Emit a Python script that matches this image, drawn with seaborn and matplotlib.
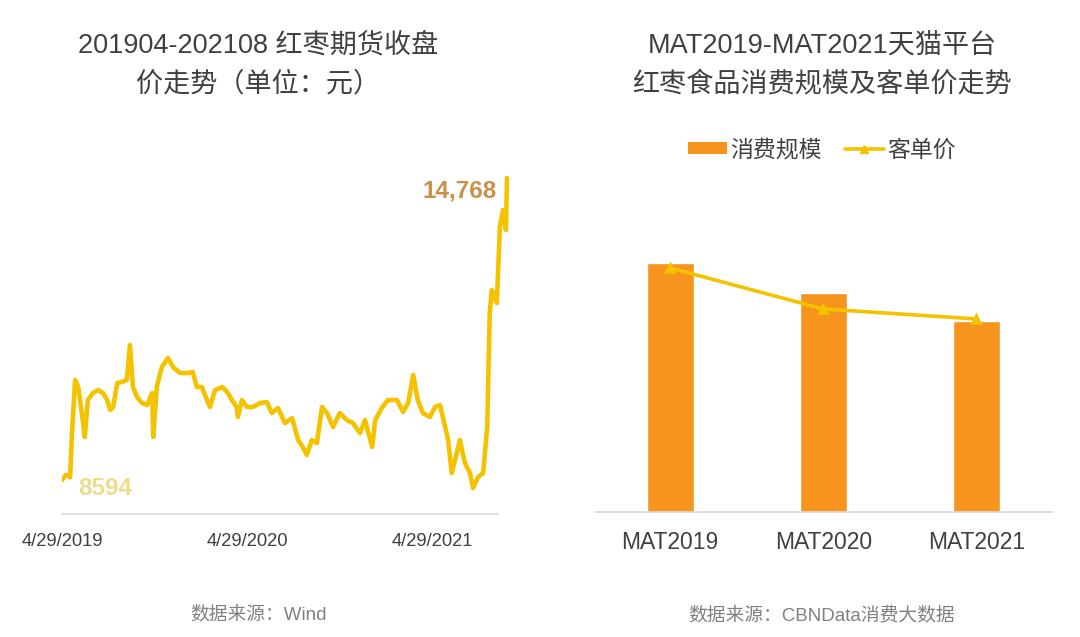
"""
红枣期货收盘价走势 + 天猫平台红枣食品消费规模及客单价走势 (two panels).
"""
import matplotlib
matplotlib.use("Agg")
import matplotlib.pyplot as plt
from matplotlib.patches import Patch
from matplotlib.lines import Line2D
import matplotlib.dates as mdates
import pandas as pd
import seaborn as sns

# ---- left panel: futures close price ----
futures_dates = [
    "2019-04-29", "2019-05-07", "2019-05-15", "2019-05-19", "2019-05-25", "2019-05-31",
    "2019-06-09", "2019-06-13", "2019-06-19", "2019-06-29", "2019-07-09", "2019-07-19",
    "2019-07-27", "2019-08-02", "2019-08-08", "2019-08-16", "2019-08-25", "2019-09-04",
    "2019-09-10", "2019-09-16", "2019-09-24", "2019-10-04", "2019-10-14", "2019-10-24",
    "2019-10-26", "2019-11-02", "2019-11-12", "2019-11-24", "2019-12-04", "2019-12-18",
    "2020-01-01", "2020-01-12", "2020-01-20", "2020-01-30", "2020-02-09", "2020-02-15",
    "2020-02-25", "2020-03-10", "2020-03-20", "2020-03-29", "2020-04-08", "2020-04-10",
    "2020-04-18", "2020-04-28", "2020-05-10", "2020-05-24", "2020-06-06", "2020-06-16",
    "2020-06-28", "2020-07-12", "2020-07-26", "2020-08-07", "2020-08-16", "2020-08-24",
    "2020-09-03", "2020-09-13", "2020-09-23", "2020-10-03", "2020-10-15", "2020-10-28",
    "2020-11-11", "2020-11-23", "2020-12-07", "2020-12-17", "2020-12-31", "2021-01-06",
    "2021-01-19", "2021-01-31", "2021-02-18", "2021-03-02", "2021-03-12", "2021-03-22",
    "2021-03-31", "2021-04-10", "2021-04-24", "2021-05-04", "2021-05-14", "2021-05-24",
    "2021-05-30", "2021-06-06", "2021-06-16", "2021-06-22", "2021-07-02", "2021-07-12",
    "2021-07-18", "2021-07-28", "2021-08-07", "2021-08-15", "2021-08-20", "2021-08-24",
    "2021-09-03", "2021-09-09", "2021-09-15", "2021-09-21", "2021-09-23",
]
futures_close = [
    8594, 8700, 8650, 9616, 10638, 10495,
    9820, 9473, 10229, 10372, 10434, 10372,
    10229, 10025, 10086, 10577, 10597, 10638,
    11353, 10495, 10290, 10168, 10127, 10372,
    9473, 10495, 10904, 11088, 10904, 10781,
    10781, 10802, 10495, 10495, 10229, 10086,
    10434, 10495, 10393, 10229, 10086, 9882,
    10229, 10086, 10086, 10168, 10188, 9963,
    10066, 9759, 9861, 9412, 9269, 9105,
    9412, 9350, 10086, 9963, 9677, 9963,
    9820, 9759, 9555, 9820, 9269, 9820,
    10066, 10229, 10229, 9985, 10168, 10740,
    10229, 9963, 9882, 10086, 10127, 9677,
    9412, 8737, 9146, 9412, 8941, 8737,
    8430, 8655, 8737, 9677, 12007, 12478,
    12212, 13765, 14112, 13704, 14768,
]
date_ticks = ["2019-04-29", "2020-04-29", "2021-04-29"]
date_tick_labels = ["4/29/2019", "4/29/2020", "4/29/2021"]
first_label = "8594"
last_label = "14,768"

# ---- right panel: Tmall consumption scale (index) and per-customer price ----
periods = ["MAT2019", "MAT2020", "MAT2021"]
consumption_scale = [100, 88, 76.7]
unit_price = [98, 81.5, 77.5]

BAR_COLOR = "#F7941D"
LINE_COLOR = "#F5C200"
TEXT_COLOR = "#404040"

sns.set_style("white")
plt.rcParams["font.family"] = ["Liberation Sans", "Noto Sans CJK SC", "DejaVu Sans"]

fig = plt.figure(figsize=(10.8, 6.37), dpi=100)

# left panel
ax1 = fig.add_axes([62 / 1080, 1 - 514 / 637, 448 / 1080, 344 / 637])
df1 = pd.DataFrame({"date": pd.to_datetime(futures_dates), "close": futures_close})
sns.lineplot(data=df1, x="date", y="close", color=LINE_COLOR, linewidth=3.3, ax=ax1)
ax1.set_xlim(pd.Timestamp("2019-04-29"), pd.Timestamp("2021-09-29"))
ax1.set_ylim(7899, 14932)
ax1.set_xticks(pd.to_datetime(date_ticks))
ax1.set_xticklabels(date_tick_labels, fontsize=13.2, color=TEXT_COLOR)
ax1.tick_params(axis="x", length=0, pad=14)
ax1.set_yticks([])
ax1.set_xlabel("")
ax1.set_ylabel("")
for side in ["top", "left", "right"]:
    ax1.spines[side].set_visible(False)
ax1.spines["bottom"].set_color("#D9D9D9")
ax1.spines["bottom"].set_linewidth(1.2)
ax1.spines["bottom"].set_bounds(mdates.date2num(pd.Timestamp("2019-04-29")),
                                mdates.date2num(pd.Timestamp("2021-09-05")))

ax1.annotate(first_label, (df1["date"].iloc[0], futures_close[0]),
             xytext=(12, -6), textcoords="offset points", ha="left", va="center",
             fontsize=17.5, fontweight="bold", color="#EEDC8E")
ax1.annotate(last_label, (df1["date"].iloc[-1], futures_close[-1]),
             xytext=(-7, -9), textcoords="offset points", ha="right", va="center",
             fontsize=17.5, fontweight="bold", color="#C8924A")

fig.text(258 / 1080, 1 - 65 / 637, "201904-202108 红枣期货收盘\n价走势（单位：元）",
         ha="center", va="center", fontsize=19.5, color=TEXT_COLOR, linespacing=1.6)
fig.text(258 / 1080, 1 - 615 / 637, "数据来源：Wind", ha="center", va="center",
         fontsize=13.5, color="#808080")

# right panel
ax2 = fig.add_axes([595 / 1080, 1 - 512 / 637, 458 / 1080, 342 / 637])
sns.barplot(x=periods, y=consumption_scale, color=BAR_COLOR, saturation=1,
            width=0.307, ax=ax2)
sns.pointplot(x=periods, y=unit_price, color=LINE_COLOR, markers="^",
              markersize=6, linewidth=2.6, errorbar=None, ax=ax2)
ax2.set_xlim(-0.49, 2.50)
ax2.set_ylim(0, 137.3)
ax2.set_yticks([])
ax2.tick_params(axis="x", length=0, pad=14, labelsize=16.5, labelcolor=TEXT_COLOR)
for side in ["top", "left", "right"]:
    ax2.spines[side].set_visible(False)
ax2.spines["bottom"].set_color("#D9D9D9")
ax2.spines["bottom"].set_linewidth(1.2)

handles = [Patch(facecolor=BAR_COLOR, edgecolor="none", label="消费规模"),
           Line2D([0], [0], color=LINE_COLOR, linewidth=2.6, marker="^",
                  markersize=6, label="客单价")]
fig.legend(handles=handles, loc="center", bbox_to_anchor=(822 / 1080, 1 - 150 / 637),
           ncol=2, frameon=False, fontsize=16.5, handlelength=1.7, handleheight=0.45,
           columnspacing=1.0, handletextpad=0.15, labelcolor=TEXT_COLOR)

fig.text(822 / 1080, 1 - 65 / 637, "MAT2019-MAT2021天猫平台\n红枣食品消费规模及客单价走势",
         ha="center", va="center", fontsize=19.5, color=TEXT_COLOR, linespacing=1.6)
fig.text(822 / 1080, 1 - 615 / 637, "数据来源：CBNData消费大数据", ha="center", va="center",
         fontsize=13.5, color="#808080")

fig.savefig("out.png", dpi=100)
